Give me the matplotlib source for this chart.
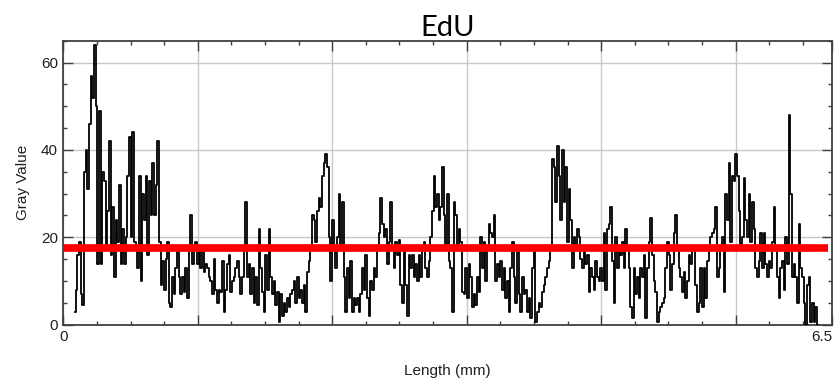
import numpy as np
import matplotlib
matplotlib.use('Agg')
import matplotlib.pyplot as plt
from matplotlib.ticker import FixedLocator, FixedFormatter, MultipleLocator

# gray value profile, one value every ~0.014 mm
gray_values = [
    3, 8, 16, 19, 7, 4.5, 35, 40, 31, 46, 57, 52, 64, 50, 14, 49, 14, 35, 33, 17,
    26, 42, 16, 27, 11, 24, 19, 32, 14, 22, 14, 20, 34, 43, 20, 44, 19, 17, 13, 34,
    10, 30, 24, 34, 16, 33, 25, 37, 25, 32, 42, 19, 9, 14.5, 8, 15, 19, 5, 4, 11,
    7, 13, 18, 11, 7, 11, 7.5, 13, 6, 17, 25,
    14, 17, 19, 14, 17, 13, 17, 12, 14, 13, 11, 10, 7, 15, 8, 5, 8, 7.5, 14.5, 3,
    8, 14, 16, 7.5, 10, 11, 13, 14.5, 11, 7, 11, 17, 28, 11, 14, 7, 13, 5, 11, 4.5,
    22, 13, 7.5, 3, 16, 8, 22, 11, 7, 10, 4.5, 7.5, 0.7, 7, 2, 5, 3, 6, 4, 7,
    8, 10, 5, 11, 6, 8, 5, 9, 3, 12, 14.5, 17, 25, 24, 19, 26, 29,
    27, 34, 37, 39, 36, 20, 10, 24, 17, 13, 20, 30, 17, 28, 11, 3, 13, 6, 14.5, 3,
    6, 4.5, 6, 3, 7, 13, 8, 16, 6, 2, 10, 8, 13, 11, 17, 21, 29, 23, 20, 22,
    14, 19, 28, 17, 13, 19, 16, 19.5, 9, 5, 17, 9, 2, 16, 13, 16, 11, 14, 10, 16,
    11, 17, 19, 13, 11, 14.5, 20, 26, 34, 27, 30, 24, 27, 36, 25, 17, 30,
    14.5, 13, 3, 28, 25, 17, 22, 19, 7.5, 7, 13, 6, 14, 11, 4, 7, 4.5, 11, 7.5, 20,
    13, 19, 10, 17, 23, 21, 20, 25, 10, 14, 11, 14.5, 8, 13, 6, 10, 3, 13, 19, 11,
    5, 17, 7, 3, 11, 7, 8, 3, 6, 1.5, 13, 17, 0.7, 3, 5, 4, 7.5, 9, 11, 13,
    14.5, 18, 38, 36, 28, 41, 34, 24, 40, 28, 36, 19, 31, 24, 13, 20, 17,
    22, 20, 15, 13, 17, 14, 16, 7.5, 13, 11, 8, 14.5, 11, 10, 13, 10, 21, 8, 22, 23,
    27, 14.5, 5, 20, 13, 18, 16, 19, 13, 22, 17, 13, 4, 1.5, 13, 7, 11, 6, 13, 11,
    16, 1.5, 13, 19, 24.5, 16, 10, 7.5, 0.7, 3, 4, 5, 6, 13, 19, 16, 8, 14, 21, 25,
    17, 13, 11, 7.5, 12, 6, 10, 16, 14, 17, 18, 9, 3, 5, 13, 4, 13,
    6, 14.5, 17, 20, 21, 22, 27, 11, 13, 17, 20, 7.5, 30, 24, 37, 19, 34, 33, 39, 34,
    26, 17, 20, 33.5, 24, 20, 30, 19, 28, 22, 13, 11, 14.5, 21, 13, 21, 14, 11, 14.5, 13,
    19, 27, 17, 11, 6, 13, 14.5, 8, 20, 14, 48, 30, 11, 14, 11, 5, 23, 13, 11, 5,
    0, 9, 11, 0.7, 5, 0.7, 4, 0,
]
length_start = 0.096   # mm
length_step = 0.01409  # mm between samples
mean_gray = 17.5

x_tick_pos = [0, 1.137, 2.274, 3.411, 4.548, 5.685, 6.5]
x_tick_labels = ['0', '', '', '', '', '', '6.5']
y_tick_pos = [0, 20, 40, 60]

length = length_start + length_step * np.arange(len(gray_values))

fig = plt.figure(figsize=(8.4, 3.84), dpi=100)
ax = fig.add_axes([0.0754, 0.1544, 0.9151, 0.7396])

ax.plot(length, gray_values, color='black', linewidth=1.3, drawstyle='steps-mid', zorder=3)
ax.hlines(mean_gray, 0, 6.47, color='#ff0000', linewidth=5.5, zorder=4)

ax.set_xlim(0, 6.5)
ax.set_ylim(0, 65)

ax.xaxis.set_major_locator(FixedLocator(x_tick_pos))
ax.xaxis.set_major_formatter(FixedFormatter(x_tick_labels))
ax.xaxis.set_minor_locator(MultipleLocator(1.137 / 4))
ax.yaxis.set_major_locator(FixedLocator(y_tick_pos))
ax.yaxis.set_minor_locator(MultipleLocator(5))

ax.grid(True, which='major', color='#c8c8c8', linewidth=1.0, zorder=0)
ax.set_axisbelow(True)

axis_font = ['Liberation Sans', 'DejaVu Sans']
ax.tick_params(which='major', direction='in', length=7, width=1.0, color='#404040',
               top=True, right=True, labelsize=11, pad=4)
ax.tick_params(which='minor', direction='in', length=3, width=1.0, color='#404040',
               top=True, right=True)
for lab in ax.get_xticklabels() + ax.get_yticklabels():
    lab.set_family(axis_font)
    lab.set_color('#202020')
ax.get_xticklabels()[-1].set_horizontalalignment('right')

for sp in ax.spines.values():
    sp.set_color('#404040')
    sp.set_linewidth(1.3)

ax.set_xlabel('Length (mm)', family=axis_font, fontsize=11, color='#202020', labelpad=14)
ax.set_ylabel('Gray Value', family=axis_font, fontsize=11, color='#202020', labelpad=8)
ax.set_title('EdU', family=['Lato', 'DejaVu Sans'], fontsize=21, pad=2)

fig.savefig('out.png', dpi=100)
